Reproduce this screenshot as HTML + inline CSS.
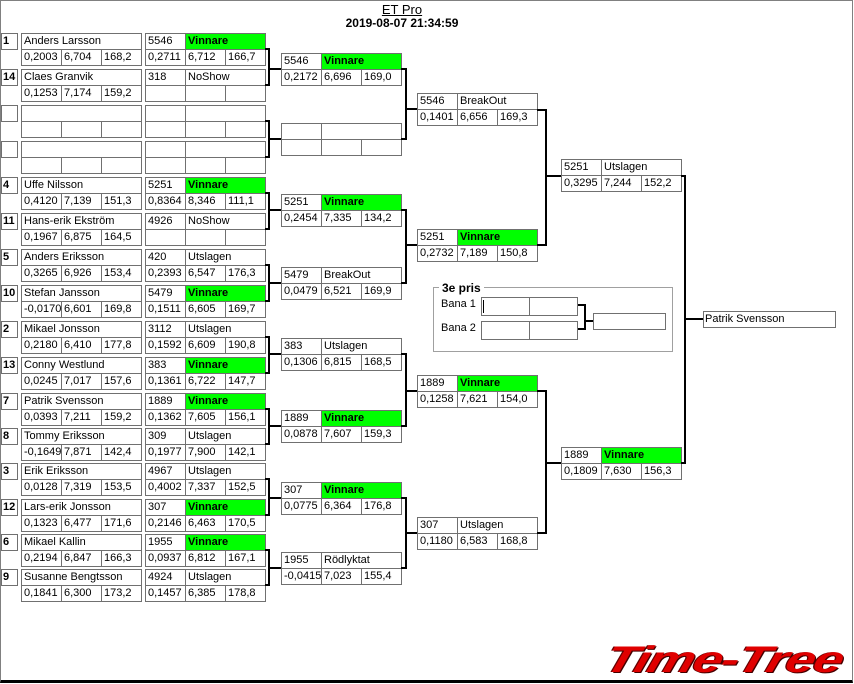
<!DOCTYPE html>
<html><head><meta charset="utf-8"><style>
body{margin:0;width:854px;height:684px;background:#fff;position:relative;overflow:hidden;font-family:"Liberation Sans",Arial,sans-serif;font-size:11px;color:#000}
.fr{position:absolute;left:0;top:0;width:851px;height:679px;border:1px solid #808080;border-bottom:3px solid #000;border-right:1px solid #808080}
.b{position:absolute;width:121px;height:33px}
.b i{position:absolute;font-style:normal;box-sizing:border-box;border:1px solid #707070;height:17px;line-height:15px;padding-left:2px;white-space:nowrap;overflow:hidden;background:#fff}
.c1{left:0;top:0;width:41px}.c2{left:40px;top:0;width:81px}.n{left:0;top:0;width:121px}
.c3{left:0;top:16px;width:41px}.c4{left:40px;top:16px;width:41px}.c5{left:80px;top:16px;width:41px}
.b i.g{background:#00ff00;font-weight:bold}
.s{position:absolute;left:1px;width:17px;height:17px;box-sizing:border-box;border:1px solid #707070;font-weight:bold;line-height:15px;padding-left:1px}
.t{position:absolute;text-align:center;font-weight:bold}
svg{position:absolute;left:0;top:0}
</style></head><body>
<div class="fr"></div>
<div class="t" style="left:302px;top:2px;width:200px;font-size:13px;font-weight:normal;text-decoration:underline">ET Pro</div>
<div class="t" style="left:302px;top:16px;width:200px;font-size:12px">2019-08-07 21:34:59</div>

<div class="s" style="top:33px">1</div><div class="s" style="top:69px">14</div>
<div class="s" style="top:105px"></div><div class="s" style="top:141px"></div>
<div class="s" style="top:177px">4</div><div class="s" style="top:213px">11</div>
<div class="s" style="top:249px">5</div><div class="s" style="top:285px">10</div>
<div class="s" style="top:321px">2</div><div class="s" style="top:357px">13</div>
<div class="s" style="top:393px">7</div><div class="s" style="top:428px">8</div>
<div class="s" style="top:463px">3</div><div class="s" style="top:499px">12</div>
<div class="s" style="top:534px">6</div><div class="s" style="top:569px">9</div>

<div class="b" style="left:21px;top:33px"><i class="n">Anders Larsson</i><i class="c3">0,2003</i><i class="c4">6,704</i><i class="c5">168,2</i></div>
<div class="b" style="left:21px;top:69px"><i class="n">Claes Granvik</i><i class="c3">0,1253</i><i class="c4">7,174</i><i class="c5">159,2</i></div>
<div class="b" style="left:21px;top:105px"><i class="n"></i><i class="c3"></i><i class="c4"></i><i class="c5"></i></div>
<div class="b" style="left:21px;top:141px"><i class="n"></i><i class="c3"></i><i class="c4"></i><i class="c5"></i></div>
<div class="b" style="left:21px;top:177px"><i class="n">Uffe Nilsson</i><i class="c3">0,4120</i><i class="c4">7,139</i><i class="c5">151,3</i></div>
<div class="b" style="left:21px;top:213px"><i class="n">Hans-erik Ekström</i><i class="c3">0,1967</i><i class="c4">6,875</i><i class="c5">164,5</i></div>
<div class="b" style="left:21px;top:249px"><i class="n">Anders Eriksson</i><i class="c3">0,3265</i><i class="c4">6,926</i><i class="c5">153,4</i></div>
<div class="b" style="left:21px;top:285px"><i class="n">Stefan Jansson</i><i class="c3">-0,0170</i><i class="c4">6,601</i><i class="c5">169,8</i></div>
<div class="b" style="left:21px;top:321px"><i class="n">Mikael Jonsson</i><i class="c3">0,2180</i><i class="c4">6,410</i><i class="c5">177,8</i></div>
<div class="b" style="left:21px;top:357px"><i class="n">Conny Westlund</i><i class="c3">0,0245</i><i class="c4">7,017</i><i class="c5">157,6</i></div>
<div class="b" style="left:21px;top:393px"><i class="n">Patrik Svensson</i><i class="c3">0,0393</i><i class="c4">7,211</i><i class="c5">159,2</i></div>
<div class="b" style="left:21px;top:428px"><i class="n">Tommy Eriksson</i><i class="c3">-0,1649</i><i class="c4">7,871</i><i class="c5">142,4</i></div>
<div class="b" style="left:21px;top:463px"><i class="n">Erik Eriksson</i><i class="c3">0,0128</i><i class="c4">7,319</i><i class="c5">153,5</i></div>
<div class="b" style="left:21px;top:499px"><i class="n">Lars-erik Jonsson</i><i class="c3">0,1323</i><i class="c4">6,477</i><i class="c5">171,6</i></div>
<div class="b" style="left:21px;top:534px"><i class="n">Mikael Kallin</i><i class="c3">0,2194</i><i class="c4">6,847</i><i class="c5">166,3</i></div>
<div class="b" style="left:21px;top:569px"><i class="n">Susanne Bengtsson</i><i class="c3">0,1841</i><i class="c4">6,300</i><i class="c5">173,2</i></div>

<div class="b" style="left:145px;top:33px"><i class="c1">5546</i><i class="c2 g">Vinnare</i><i class="c3">0,2711</i><i class="c4">6,712</i><i class="c5">166,7</i></div>
<div class="b" style="left:145px;top:69px"><i class="c1">318</i><i class="c2">NoShow</i><i class="c3"></i><i class="c4"></i><i class="c5"></i></div>
<div class="b" style="left:145px;top:105px"><i class="c1"></i><i class="c2"></i><i class="c3"></i><i class="c4"></i><i class="c5"></i></div>
<div class="b" style="left:145px;top:141px"><i class="c1"></i><i class="c2"></i><i class="c3"></i><i class="c4"></i><i class="c5"></i></div>
<div class="b" style="left:145px;top:177px"><i class="c1">5251</i><i class="c2 g">Vinnare</i><i class="c3">0,8364</i><i class="c4">8,346</i><i class="c5">111,1</i></div>
<div class="b" style="left:145px;top:213px"><i class="c1">4926</i><i class="c2">NoShow</i><i class="c3"></i><i class="c4"></i><i class="c5"></i></div>
<div class="b" style="left:145px;top:249px"><i class="c1">420</i><i class="c2">Utslagen</i><i class="c3">0,2393</i><i class="c4">6,547</i><i class="c5">176,3</i></div>
<div class="b" style="left:145px;top:285px"><i class="c1">5479</i><i class="c2 g">Vinnare</i><i class="c3">0,1511</i><i class="c4">6,605</i><i class="c5">169,7</i></div>
<div class="b" style="left:145px;top:321px"><i class="c1">3112</i><i class="c2">Utslagen</i><i class="c3">0,1592</i><i class="c4">6,609</i><i class="c5">190,8</i></div>
<div class="b" style="left:145px;top:357px"><i class="c1">383</i><i class="c2 g">Vinnare</i><i class="c3">0,1361</i><i class="c4">6,722</i><i class="c5">147,7</i></div>
<div class="b" style="left:145px;top:393px"><i class="c1">1889</i><i class="c2 g">Vinnare</i><i class="c3">0,1362</i><i class="c4">7,605</i><i class="c5">156,1</i></div>
<div class="b" style="left:145px;top:428px"><i class="c1">309</i><i class="c2">Utslagen</i><i class="c3">0,1977</i><i class="c4">7,900</i><i class="c5">142,1</i></div>
<div class="b" style="left:145px;top:463px"><i class="c1">4967</i><i class="c2">Utslagen</i><i class="c3">0,4002</i><i class="c4">7,337</i><i class="c5">152,5</i></div>
<div class="b" style="left:145px;top:499px"><i class="c1">307</i><i class="c2 g">Vinnare</i><i class="c3">0,2146</i><i class="c4">6,463</i><i class="c5">170,5</i></div>
<div class="b" style="left:145px;top:534px"><i class="c1">1955</i><i class="c2 g">Vinnare</i><i class="c3">0,0937</i><i class="c4">6,812</i><i class="c5">167,1</i></div>
<div class="b" style="left:145px;top:569px"><i class="c1">4924</i><i class="c2">Utslagen</i><i class="c3">0,1457</i><i class="c4">6,385</i><i class="c5">178,8</i></div>

<div class="b" style="left:281px;top:53px"><i class="c1">5546</i><i class="c2 g">Vinnare</i><i class="c3">0,2172</i><i class="c4">6,696</i><i class="c5">169,0</i></div>
<div class="b" style="left:281px;top:123px"><i class="c1"></i><i class="c2"></i><i class="c3"></i><i class="c4"></i><i class="c5"></i></div>
<div class="b" style="left:281px;top:194px"><i class="c1">5251</i><i class="c2 g">Vinnare</i><i class="c3">0,2454</i><i class="c4">7,335</i><i class="c5">134,2</i></div>
<div class="b" style="left:281px;top:267px"><i class="c1">5479</i><i class="c2">BreakOut</i><i class="c3">0,0479</i><i class="c4">6,521</i><i class="c5">169,9</i></div>
<div class="b" style="left:281px;top:338px"><i class="c1">383</i><i class="c2">Utslagen</i><i class="c3">0,1306</i><i class="c4">6,815</i><i class="c5">168,5</i></div>
<div class="b" style="left:281px;top:410px"><i class="c1">1889</i><i class="c2 g">Vinnare</i><i class="c3">0,0878</i><i class="c4">7,607</i><i class="c5">159,3</i></div>
<div class="b" style="left:281px;top:482px"><i class="c1">307</i><i class="c2 g">Vinnare</i><i class="c3">0,0775</i><i class="c4">6,364</i><i class="c5">176,8</i></div>
<div class="b" style="left:281px;top:552px"><i class="c1">1955</i><i class="c2">Rödlyktat</i><i class="c3">-0,0415</i><i class="c4">7,023</i><i class="c5">155,4</i></div>

<div class="b" style="left:417px;top:93px"><i class="c1">5546</i><i class="c2">BreakOut</i><i class="c3">0,1401</i><i class="c4">6,656</i><i class="c5">169,3</i></div>
<div class="b" style="left:417px;top:229px"><i class="c1">5251</i><i class="c2 g">Vinnare</i><i class="c3">0,2732</i><i class="c4">7,189</i><i class="c5">150,8</i></div>
<div class="b" style="left:417px;top:375px"><i class="c1">1889</i><i class="c2 g">Vinnare</i><i class="c3">0,1258</i><i class="c4">7,621</i><i class="c5">154,0</i></div>
<div class="b" style="left:417px;top:517px"><i class="c1">307</i><i class="c2">Utslagen</i><i class="c3">0,1180</i><i class="c4">6,583</i><i class="c5">168,8</i></div>

<div class="b" style="left:561px;top:159px"><i class="c1">5251</i><i class="c2">Utslagen</i><i class="c3">0,3295</i><i class="c4">7,244</i><i class="c5">152,2</i></div>
<div class="b" style="left:561px;top:447px"><i class="c1">1889</i><i class="c2 g">Vinnare</i><i class="c3">0,1809</i><i class="c4">7,630</i><i class="c5">156,3</i></div>

<div style="position:absolute;left:703px;top:311px;width:133px;height:17px;box-sizing:border-box;border:1px solid #707070;line-height:15px;padding-left:1px">Patrik Svensson</div>

<div style="position:absolute;left:433px;top:287px;width:240px;height:65px;box-sizing:border-box;border:1px solid #a0a0a0"></div>
<div style="position:absolute;left:439px;top:281px;background:#fff;padding:0 3px;font-weight:bold;font-size:12px;line-height:14px">3e pris</div>
<div style="position:absolute;left:441px;top:297px;line-height:15px">Bana 1</div>
<div style="position:absolute;left:441px;top:321px;line-height:15px">Bana 2</div>
<div class="b" style="left:481px;top:297px;width:97px"><i style="left:0;top:0;width:49px;height:19px"></i><i style="left:48px;top:0;width:49px;height:19px"></i></div>
<div style="position:absolute;left:483px;top:300px;width:1px;height:13px;background:#000"></div>
<div class="b" style="left:481px;top:321px;width:97px"><i style="left:0;top:0;width:49px;height:19px"></i><i style="left:48px;top:0;width:49px;height:19px"></i></div>
<div style="position:absolute;left:593px;top:313px;width:73px;height:17px;box-sizing:border-box;border:1px solid #707070"></div>

<svg width="854" height="684" viewBox="0 0 854 684">
<g fill="none" stroke="#000" stroke-width="2" shape-rendering="crispEdges">
<path d="M265 49H269V85H265M269 69H281"/>
<path d="M265 121H269V157H265M269 139H281"/>
<path d="M265 193H269V229H265M269 210H281"/>
<path d="M265 265H269V301H265M269 283H281"/>
<path d="M265 337H269V373H265M269 354H281"/>
<path d="M265 409H269V444H265M269 426H281"/>
<path d="M265 479H269V515H265M269 498H281"/>
<path d="M265 550H269V585H265M269 568H281"/>
<path d="M401 69H406V139H401M406 109H417"/>
<path d="M401 210H406V283H401M406 245H417"/>
<path d="M401 354H406V426H401M406 391H417"/>
<path d="M401 498H406V568H401M406 533H417"/>
<path d="M537 110H546V245H537M546 176H561"/>
<path d="M537 391H546V533H537M546 463H561"/>
<path d="M681 176H685V463H681M685 319H703"/>
<path d="M578 305H585V329H578M585 321H593"/>
</g>
</svg>

<div style="position:absolute;left:604px;top:640px;width:250px;height:40px;overflow:hidden">
<div style="position:absolute;left:8px;top:0;font-size:37px;font-weight:bold;font-style:italic;color:#e00000;letter-spacing:-1px;transform:scaleX(1.42) skewX(-12deg);transform-origin:0 0;line-height:40px;text-shadow:1px 1px 0 #400,-1px 0 0 #600">Time-Tree</div>
</div>
</body></html>
